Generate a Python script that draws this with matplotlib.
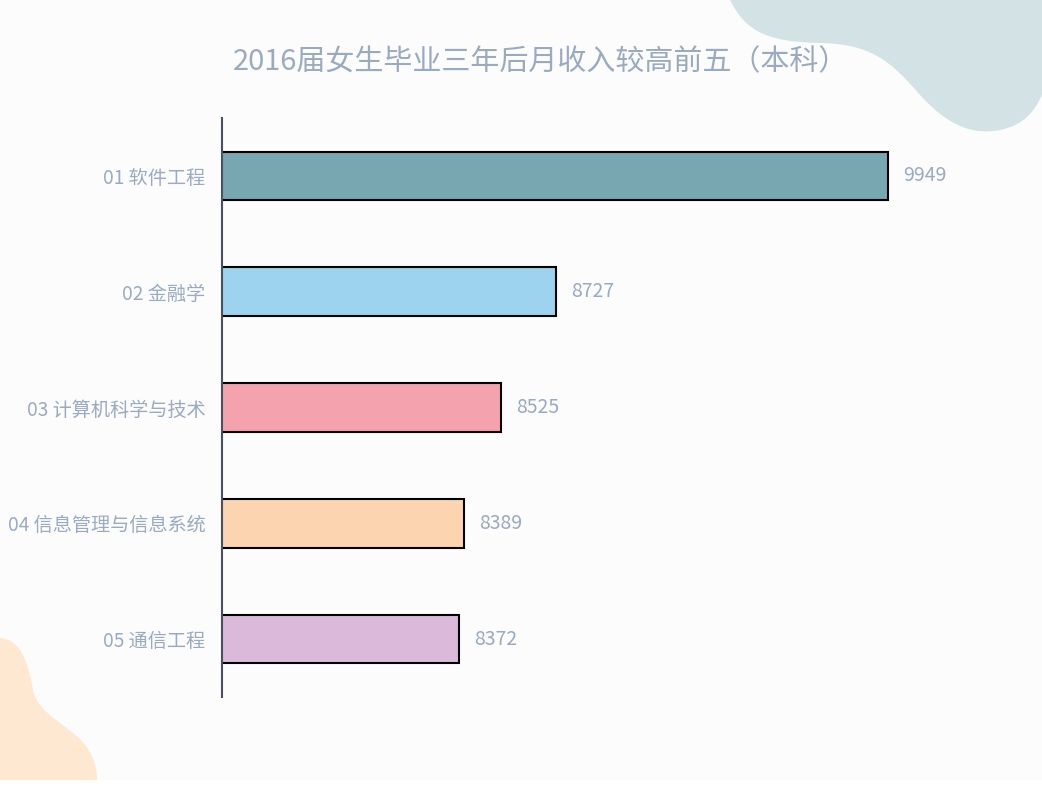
import matplotlib
matplotlib.use("Agg")
import matplotlib.pyplot as plt
from matplotlib.path import Path
from matplotlib.patches import PathPatch, Rectangle

plt.rcParams['font.family'] = ['Noto Sans CJK SC', 'DejaVu Sans']

categories = ["01 软件工程", "02 金融学", "03 计算机科学与技术", "04 信息管理与信息系统", "05 通信工程"]
values = [9949, 8727, 8525, 8389, 8372]
colors = ["#78a6b1", "#9dd3ee", "#f4a2ad", "#fcd5b0", "#dbb9da"]
title = "2016届女生毕业三年后月收入较高前五（本科）"

W, H = 1042, 795
fig = plt.figure(figsize=(W / 100, H / 100), dpi=100, facecolor="white")

# decorative background layer in pixel coordinates
bg = fig.add_axes([0, 0, 1, 1], zorder=0)
bg.set_xlim(0, W)
bg.set_ylim(H, 0)
bg.axis("off")
bg.add_patch(Rectangle((0, 0), W, 780, facecolor="#fcfcfc", edgecolor="none"))

C3 = Path.CURVE4
teal_verts = [(730, 0), (745, 30), (765, 42), (820, 43),
              (870, 44), (890, 60), (920, 95),
              (950, 128), (975, 135), (1000, 130),
              (1025, 125), (1035, 110), (1042, 95),
              (1042, 0), (730, 0)]
teal_codes = [Path.MOVETO, C3, C3, C3, C3, C3, C3, C3, C3, C3, C3, C3, C3,
              Path.LINETO, Path.CLOSEPOLY]
bg.add_patch(PathPatch(Path(teal_verts, teal_codes), facecolor="#d3e3e5", edgecolor="none"))

peach_verts = [(0, 638), (20, 640), (28, 660), (33, 690),
               (38, 715), (70, 725), (85, 745),
               (97, 760), (97, 775), (97, 780),
               (0, 780), (0, 638)]
peach_codes = [Path.MOVETO, C3, C3, C3, C3, C3, C3, C3, C3, C3,
               Path.LINETO, Path.CLOSEPOLY]
bg.add_patch(PathPatch(Path(peach_verts, peach_codes), facecolor="#fee8d1", edgecolor="none"))

# main chart
ax = fig.add_axes([222 / W, (H - 697) / H, 778 / W, 579 / H], zorder=1)
ax.patch.set_alpha(0)
y = list(range(len(categories)))
bars = ax.barh(y, values, height=0.42, color=colors, edgecolor="black", linewidth=1.5)
ax.set_ylim(len(categories) - 0.5, -0.5)
ax.set_xlim(7500, 10360)
ax.set_yticks(y)
ax.set_yticklabels(categories, fontsize=13.8, color="#9aaabf")
ax.tick_params(axis="y", length=0, pad=12)
ax.set_xticks([])
for s in ["top", "right", "bottom"]:
    ax.spines[s].set_visible(False)
ax.spines["left"].set_color("#4a5060")
ax.spines["left"].set_linewidth(1.5)

for bar, v in zip(bars, values):
    ax.annotate(str(v), (bar.get_width(), bar.get_y() + bar.get_height() / 2),
                xytext=(11, 0), textcoords="offset points", va="center", ha="left",
                fontsize=14, color="#9aaabf")

fig.text(541 / W, 1 - 62 / H, title, ha="center", va="center", fontsize=20.9, color="#9aaabf")

fig.savefig("out.png", dpi=100, facecolor=fig.get_facecolor())
